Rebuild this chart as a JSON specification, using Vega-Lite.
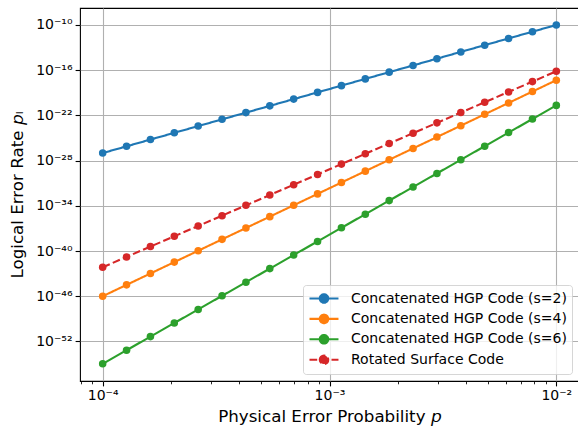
{
  "$schema": "https://vega.github.io/schema/vega-lite/v6.json",
  "width": 499,
  "height": 373,
  "autosize": {"type": "none"},
  "padding": {"left": 80, "top": 8, "right": 0, "bottom": 47},
  "background": "white",
  "config": {
    "font": "DejaVu Sans",
    "view": {"stroke": "#000000", "strokeWidth": 1.1},
    "axis": {
      "domain": false,
      "grid": true,
      "gridColor": "#b0b0b0",
      "gridWidth": 1.1,
      "tickColor": "#000000",
      "tickWidth": 1.1,
      "labelFont": "DejaVu Sans",
      "labelFontSize": 14,
      "labelColor": "#000000",
      "titleFont": "DejaVu Sans",
      "titleFontSize": 16.7,
      "titleFontWeight": "normal",
      "titleColor": "#000000"
    },
    "legend": {
      "orient": "bottom-right",
      "offset": 7,
      "title": null,
      "fillColor": "rgba(255,255,255,0.8)",
      "strokeColor": "rgba(204,204,204,0.8)",
      "cornerRadius": 3,
      "padding": 5,
      "labelFont": "DejaVu Sans",
      "labelFontSize": 14,
      "labelColor": "#000000",
      "labelLimit": 400,
      "labelOffset": 26,
      "rowPadding": 3.4,
      "symbolSize": 196,
      "symbolStrokeWidth": 2.1,
      "symbolType": "M-1,0H3.14M0.463,0A0.607,0.607,0,1,1,1.677,0A0.607,0.607,0,1,1,0.463,0Z"
    }
  },
  "data": {
    "values": [
      {"p": 1.0e-4, "Concatenated HGP Code (s=2)": 1e-27, "Concatenated HGP Code (s=4)": 1e-46, "Concatenated HGP Code (s=6)": 1.072e-55, "Rotated Surface Code": 7.079e-43},
      {"p": 1.27427e-4, "Concatenated HGP Code (s=2)": 7.8476e-27, "Concatenated HGP Code (s=4)": 3.228e-45, "Concatenated HGP Code (s=6)": 6.839e-54, "Rotated Surface Code": 1.653e-41},
      {"p": 1.62378e-4, "Concatenated HGP Code (s=2)": 6.15848e-26, "Concatenated HGP Code (s=4)": 1.042e-43, "Concatenated HGP Code (s=6)": 4.365e-52, "Rotated Surface Code": 3.862e-40},
      {"p": 2.06914e-4, "Concatenated HGP Code (s=2)": 4.83293e-25, "Concatenated HGP Code (s=4)": 3.365e-42, "Concatenated HGP Code (s=6)": 2.786e-50, "Rotated Surface Code": 9.022e-39},
      {"p": 2.63665e-4, "Concatenated HGP Code (s=2)": 3.79269e-24, "Concatenated HGP Code (s=4)": 1.086e-40, "Concatenated HGP Code (s=6)": 1.778e-48, "Rotated Surface Code": 2.107e-37},
      {"p": 3.35982e-4, "Concatenated HGP Code (s=2)": 2.97635e-23, "Concatenated HGP Code (s=4)": 3.508e-39, "Concatenated HGP Code (s=6)": 1.135e-46, "Rotated Surface Code": 4.921e-36},
      {"p": 4.28133e-4, "Concatenated HGP Code (s=2)": 2.33572e-22, "Concatenated HGP Code (s=4)": 1.132e-37, "Concatenated HGP Code (s=6)": 7.244e-45, "Rotated Surface Code": 1.149e-34},
      {"p": 5.45559e-4, "Concatenated HGP Code (s=2)": 1.83298e-21, "Concatenated HGP Code (s=4)": 3.656e-36, "Concatenated HGP Code (s=6)": 4.624e-43, "Rotated Surface Code": 2.685e-33},
      {"p": 6.95193e-4, "Concatenated HGP Code (s=2)": 1.43845e-20, "Concatenated HGP Code (s=4)": 1.180e-34, "Concatenated HGP Code (s=6)": 2.951e-41, "Rotated Surface Code": 6.271e-32},
      {"p": 8.85867e-4, "Concatenated HGP Code (s=2)": 1.12884e-19, "Concatenated HGP Code (s=4)": 3.811e-33, "Concatenated HGP Code (s=6)": 1.884e-39, "Rotated Surface Code": 1.465e-30},
      {"p": 1.12884e-3, "Concatenated HGP Code (s=2)": 8.85867e-19, "Concatenated HGP Code (s=4)": 1.230e-31, "Concatenated HGP Code (s=6)": 1.202e-37, "Rotated Surface Code": 3.421e-29},
      {"p": 1.43845e-3, "Concatenated HGP Code (s=2)": 6.95193e-18, "Concatenated HGP Code (s=4)": 3.972e-30, "Concatenated HGP Code (s=6)": 7.674e-36, "Rotated Surface Code": 7.991e-28},
      {"p": 1.83298e-3, "Concatenated HGP Code (s=2)": 5.45559e-17, "Concatenated HGP Code (s=4)": 1.282e-28, "Concatenated HGP Code (s=6)": 4.898e-34, "Rotated Surface Code": 1.866e-26},
      {"p": 2.33572e-3, "Concatenated HGP Code (s=2)": 4.28133e-16, "Concatenated HGP Code (s=4)": 4.140e-27, "Concatenated HGP Code (s=6)": 3.126e-32, "Rotated Surface Code": 4.360e-25},
      {"p": 2.97635e-3, "Concatenated HGP Code (s=2)": 3.35982e-15, "Concatenated HGP Code (s=4)": 1.337e-25, "Concatenated HGP Code (s=6)": 1.995e-30, "Rotated Surface Code": 1.018e-23},
      {"p": 3.79269e-3, "Concatenated HGP Code (s=2)": 2.63665e-14, "Concatenated HGP Code (s=4)": 4.315e-24, "Concatenated HGP Code (s=6)": 1.274e-28, "Rotated Surface Code": 2.378e-22},
      {"p": 4.83293e-3, "Concatenated HGP Code (s=2)": 2.06914e-13, "Concatenated HGP Code (s=4)": 1.393e-22, "Concatenated HGP Code (s=6)": 8.128e-27, "Rotated Surface Code": 5.555e-21},
      {"p": 6.15848e-3, "Concatenated HGP Code (s=2)": 1.62378e-12, "Concatenated HGP Code (s=4)": 4.498e-21, "Concatenated HGP Code (s=6)": 5.188e-25, "Rotated Surface Code": 1.298e-19},
      {"p": 7.8476e-3, "Concatenated HGP Code (s=2)": 1.27427e-11, "Concatenated HGP Code (s=4)": 1.452e-19, "Concatenated HGP Code (s=6)": 3.311e-23, "Rotated Surface Code": 3.031e-18},
      {"p": 1.0e-2, "Concatenated HGP Code (s=2)": 1e-10, "Concatenated HGP Code (s=4)": 4.688e-18, "Concatenated HGP Code (s=6)": 2.113e-21, "Rotated Surface Code": 7.079e-17}
    ]
  },
  "transform": [
    {
      "fold": ["Concatenated HGP Code (s=2)", "Concatenated HGP Code (s=4)", "Concatenated HGP Code (s=6)", "Rotated Surface Code"],
      "as": ["code", "pL"]
    }
  ],
  "encoding": {
    "x": {
      "field": "p",
      "type": "quantitative",
      "title": "Physical Error Probability 𝘱",
      "scale": {"type": "log", "domain": [7.943e-5, 1.2589e-2], "nice": false, "zero": false},
      "axis": {
        "values": [8e-5, 9e-5, 1e-4, 2e-4, 3e-4, 4e-4, 5e-4, 6e-4, 7e-4, 8e-4, 9e-4, 1e-3, 2e-3, 3e-3, 4e-3, 5e-3, 6e-3, 7e-3, 8e-3, 9e-3, 1e-2],
        "labelExpr": "abs(log(datum.value)/LN10 - round(log(datum.value)/LN10)) < 0.001 ? '10⁻' + substring('⁰¹²³⁴⁵⁶⁷⁸⁹', -round(log(datum.value)/LN10), -round(log(datum.value)/LN10) + 1) : ''",
        "tickSize": {"condition": {"test": "abs(log(datum.value)/LN10 - round(log(datum.value)/LN10)) < 0.001", "value": 4.9}, "value": 2.8},
        "tickWidth": {"condition": {"test": "abs(log(datum.value)/LN10 - round(log(datum.value)/LN10)) < 0.001", "value": 1.1}, "value": 0.85},
        "gridOpacity": {"condition": {"test": "abs(log(datum.value)/LN10 - round(log(datum.value)/LN10)) < 0.001", "value": 1}, "value": 0},
        "labelPadding": 3,
        "labelFlush": false,
        "labelOverlap": false,
        "titlePadding": 6
      }
    },
    "y": {
      "field": "pL",
      "type": "quantitative",
      "title": "Logical Error Rate 𝘱ₗ",
      "scale": {"type": "log", "domain": [5.623e-58, 1.778e-8], "nice": false, "zero": false},
      "axis": {
        "values": [1e-52, 1e-46, 1e-40, 1e-34, 1e-28, 1e-22, 1e-16, 1e-10],
        "labelExpr": "'10⁻' + (floor(-round(log(datum.value)/LN10)/10) > 0 ? substring('⁰¹²³⁴⁵⁶⁷⁸⁹', floor(-round(log(datum.value)/LN10)/10), floor(-round(log(datum.value)/LN10)/10) + 1) : '') + substring('⁰¹²³⁴⁵⁶⁷⁸⁹', (-round(log(datum.value)/LN10)) % 10, (-round(log(datum.value)/LN10)) % 10 + 1)",
        "tickSize": 4.9,
        "labelPadding": 3,
        "labelFlush": false,
        "labelOverlap": false,
        "titlePadding": 9
      }
    },
    "color": {
      "field": "code",
      "type": "nominal",
      "scale": {
        "domain": ["Concatenated HGP Code (s=2)", "Concatenated HGP Code (s=4)", "Concatenated HGP Code (s=6)", "Rotated Surface Code"],
        "range": ["#1f77b4", "#ff7f0e", "#2ca02c", "#d62728"]
      },
      "legend": {
        "encode": {"symbols": {"update": {"fill": {"scale": "color", "field": "value"}}}}
      }
    }
  },
  "layer": [
    {
      "mark": {"type": "line", "strokeWidth": 2.1, "clip": true},
      "encoding": {
        "strokeDash": {
          "field": "code",
          "type": "nominal",
          "scale": {
            "domain": ["Concatenated HGP Code (s=2)", "Concatenated HGP Code (s=4)", "Concatenated HGP Code (s=6)", "Rotated Surface Code"],
            "range": [[1, 0], [1, 0], [1, 0], [7.7, 3.3]]
          }
        }
      }
    },
    {
      "mark": {"type": "circle", "size": 57, "opacity": 1, "clip": true},
      "encoding": {}
    }
  ]
}
